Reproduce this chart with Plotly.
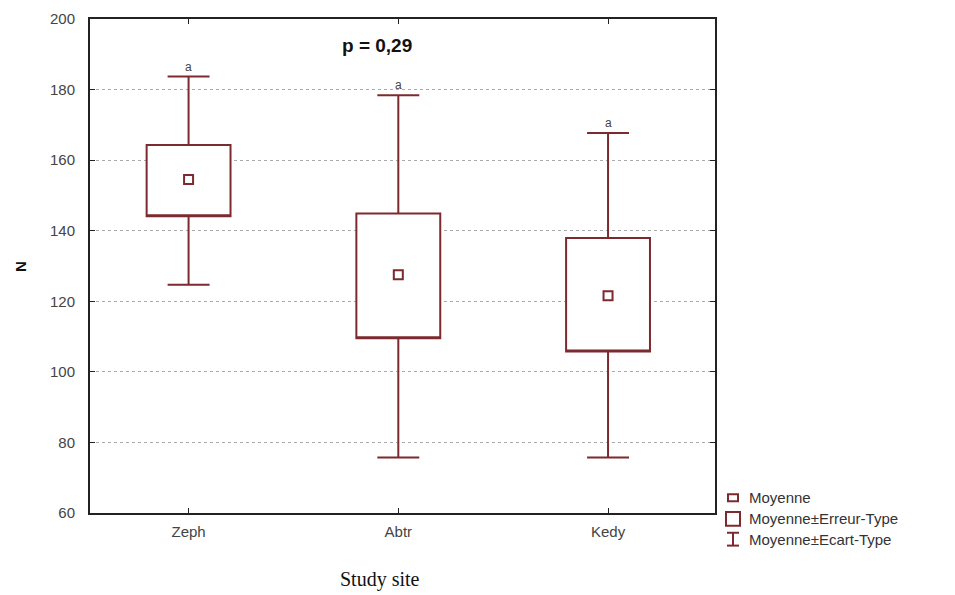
import plotly.graph_objects as go

sites = ["Zeph", "Abtr", "Kedy"]
mean = [154.5, 127.5, 121.6]
se_low = [144.1, 109.5, 105.8]
se_high = [164.3, 144.9, 137.9]
sd_low = [124.7, 75.7, 75.7]
sd_high = [183.7, 178.4, 167.7]
letters = ["a", "a", "a"]
yticks = [60, 80, 100, 120, 140, 160, 180, 200]

C = "#7b2b2f"
pos = list(range(len(sites)))

L, T, PW, PH = 82, 2, 625, 503

fig = go.Figure()
fig.add_trace(go.Box(
    x=pos, q1=se_low, median=se_low, q3=se_high,
    lowerfence=sd_low, upperfence=sd_high,
    width=0.4, whiskerwidth=0.5, boxpoints=False,
    fillcolor="white", line=dict(color=C, width=2),
    showlegend=False, hoverinfo="skip"))
fig.add_trace(go.Scatter(
    x=pos, y=mean, mode="markers",
    marker=dict(symbol="square-open", size=9, color=C, line=dict(width=2, color=C)),
    showlegend=False))

for i, s in enumerate(sites):
    fig.add_annotation(x=pos[i], y=sd_high[i], text=letters[i], showarrow=False,
                       yshift=10, font=dict(family="Arial", size=12, color="#444"))

# positions given in reference pixels -> paper coords (plot area 88..713 x 13..513)
def px(x):
    return (x - 88) / 625
def py(y):
    return (513 - y) / 500

fig.add_annotation(x=px(375), y=py(40), xref="paper", yref="paper",
                   text="<b>p = 0,29</b>", showarrow=False, yanchor="middle",
                   font=dict(family="Arial", size=19, color="#111"))
fig.add_annotation(x=px(378), y=py(580), xref="paper", yref="paper",
                   text="Study site", showarrow=False, yanchor="middle",
                   font=dict(family="Liberation Serif", size=20, color="#111"))
fig.add_annotation(x=px(19), y=py(264), xref="paper", yref="paper",
                   text="<b>N</b>", showarrow=False, textangle=-90,
                   xanchor="center", yanchor="middle",
                   font=dict(family="Arial", size=15, color="#111"))

shapes = []
shapes.append(dict(type="rect", xref="paper", yref="paper",
                   x0=px(726), x1=px(736), y0=py(501), y1=py(494),
                   line=dict(color=C, width=2), fillcolor="white"))
shapes.append(dict(type="rect", xref="paper", yref="paper",
                   x0=px(724), x1=px(738), y0=py(526), y1=py(512),
                   line=dict(color=C, width=2), fillcolor="white"))
shapes += [
    dict(type="line", xref="paper", yref="paper", x0=px(731), x1=px(731), y0=py(546), y1=py(533),
         line=dict(color=C, width=2)),
    dict(type="line", xref="paper", yref="paper", x0=px(725), x1=px(737), y0=py(533), y1=py(533),
         line=dict(color=C, width=2)),
    dict(type="line", xref="paper", yref="paper", x0=px(725), x1=px(737), y0=py(546), y1=py(546),
         line=dict(color=C, width=2)),
]
for txt, yy in [("Moyenne", 497), ("Moyenne±Erreur-Type", 519), ("Moyenne±Ecart-Type", 540)]:
    fig.add_annotation(x=px(745), y=py(yy), xref="paper", yref="paper", text=txt,
                       showarrow=False, xanchor="left", yanchor="middle",
                       font=dict(family="Arial", size=15, color="#333"))

fig.update_layout(
    width=955, height=595,
    margin=dict(l=L, r=955 - L - PW, t=T, b=595 - T - PH),
    paper_bgcolor="white", plot_bgcolor="white",
    shapes=shapes,
    showlegend=False,
    xaxis=dict(range=[-0.47, 2.51], tickvals=pos, ticktext=sites,
               showgrid=False, zeroline=False, showline=True, mirror="ticks",
               linecolor="#222", linewidth=2, ticks="inside", ticklen=5, tickcolor="#222",
               ticklabelstandoff=4,
               tickfont=dict(family="Arial", size=15, color="#444")),
    yaxis=dict(range=[60, 200], tickvals=yticks, showgrid=True, gridcolor="#aaa",
               griddash="dot", gridwidth=1, zeroline=False, showline=True, mirror="ticks",
               linecolor="#222", linewidth=2, ticks="inside", ticklen=5, tickcolor="#222",
               ticklabelstandoff=10, ticklabeloverflow="allow",
               tickfont=dict(family="Arial", size=15, color="#444")),
)

fig.write_html("out.html")
